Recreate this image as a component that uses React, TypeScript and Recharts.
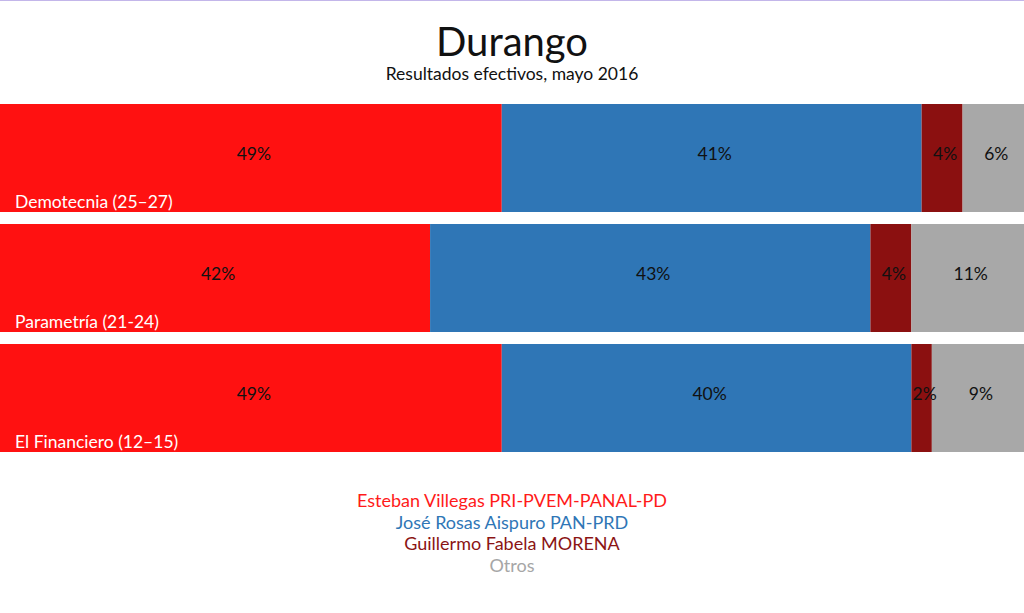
import React from 'react';
import { BarChart, Bar, XAxis, YAxis, LabelList } from 'recharts';

const polls = ['Demotecnia (25–27)', 'Parametría (21-24)', 'El Financiero (12–15)'];
const villegas = [49, 42, 49];
const rosas = [41, 43, 40];
const fabela = [4, 4, 2];
const otros = [6, 11, 9];

const series = [
  { key: 'villegas', name: 'Esteban Villegas PRI-PVEM-PANAL-PD', color: '#ff1111', text: '#ff1a1a' },
  { key: 'rosas', name: 'José Rosas Aispuro PAN-PRD', color: '#2f76b6', text: '#2f76b6' },
  { key: 'fabela', name: 'Guillermo Fabela MORENA', color: '#8b1010', text: '#8b1414' },
  { key: 'otros', name: 'Otros', color: '#a8a8a8', text: '#a6a6a6' },
];

const data = polls.map((poll, i) => ({
  poll,
  villegas: villegas[i],
  rosas: rosas[i],
  fabela: fabela[i],
  otros: otros[i],
}));

const FONT = 'Lato, "Open Sans", sans-serif';

// poll name in the bottom-left corner of each row
const PollName = (props: any) => {
  const { y, height, index } = props;
  return (
    <text x={15} y={y + height - 4} fill="#fff" fontSize={17.5} fontFamily={FONT}>
      {polls[index]}
    </text>
  );
};

export default function App() {
  return (
    <div style={{ position: 'absolute', left: 0, top: 0, width: 1024, height: 613, background: '#fff', fontFamily: FONT }}>
      <div style={{ height: 1, background: '#c3b6ea' }} />
      <div style={{ position: 'absolute', top: 16, width: 1024, textAlign: 'center', fontSize: 40, lineHeight: '50px', color: '#111' }}>
        Durango
      </div>
      <div style={{ position: 'absolute', top: 63, width: 1024, textAlign: 'center', fontSize: 17.5, lineHeight: '22px', color: '#111' }}>
        Resultados efectivos, mayo 2016
      </div>
      <div style={{ position: 'absolute', top: 98, left: 0 }}>
        <BarChart
          width={1024}
          height={360}
          data={data}
          layout="vertical"
          barCategoryGap={6}
          margin={{ top: 0, right: 0, bottom: 0, left: 0 }}
        >
          <XAxis type="number" domain={[0, 100]} hide />
          <YAxis type="category" dataKey="poll" hide width={0} />
          {series.map((s, si) => (
            <Bar key={s.key} dataKey={s.key} stackId="a" fill={s.color} isAnimationActive={false}>
              <LabelList
                dataKey={s.key}
                position="center"
                formatter={(v: any) => `${v}%`}
                fill="#111"
                fontSize={17.5}
                fontFamily={FONT}
                dx={3}
                dy={-4}
              />
              {si === 0 && <LabelList dataKey="poll" content={PollName} />}
            </Bar>
          ))}
        </BarChart>
      </div>
      <div style={{ position: 'absolute', top: 490, width: 1024, textAlign: 'center', fontSize: 18, lineHeight: '21.5px' }}>
        {series.map((s) => (
          <div key={s.key} style={{ color: s.text }}>{s.name}</div>
        ))}
      </div>
    </div>
  );
}
